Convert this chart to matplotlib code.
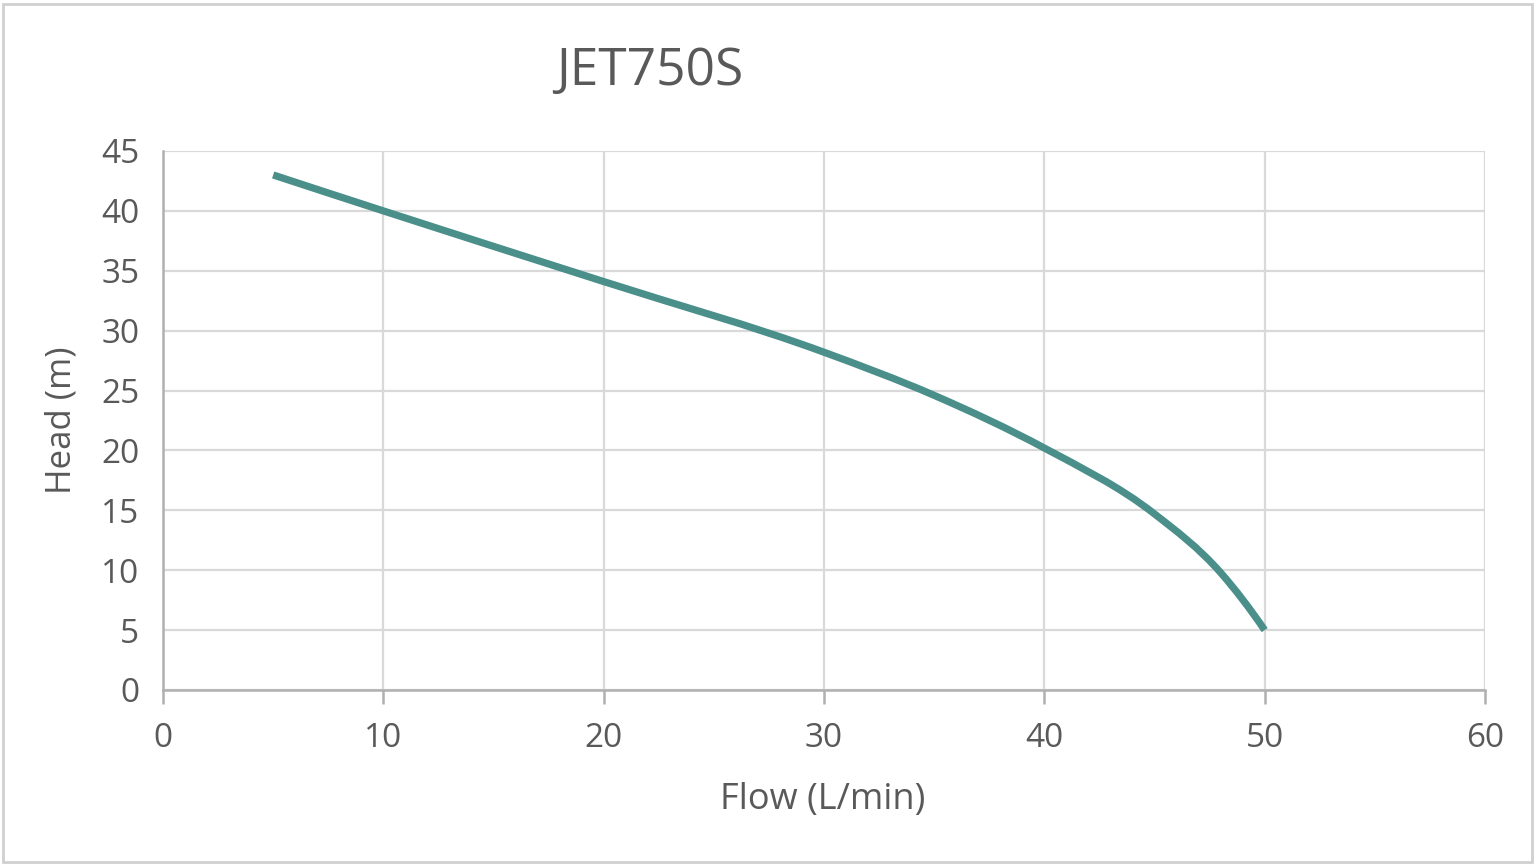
import matplotlib.pyplot as plt
from matplotlib.patches import Rectangle, PathPatch
from matplotlib.path import Path

# curva de la bomba
caudal = [5, 10, 20, 30, 35, 40, 45, 48, 50]
altura = [43, 40, 34.1, 28.2, 24.6, 20.2, 14.7, 9.8, 5]

xticks = [0, 10, 20, 30, 40, 50, 60]
yticks = [0, 5, 10, 15, 20, 25, 30, 35, 40, 45]

titulo = 'JET750S'
xlabel = 'Flow (L/min)'
ylabel = 'Head (m)'

gris_texto = '#595959'
gris_grid = '#D9D9D9'
gris_eje = '#B0B0B0'
color_linea = '#4A8F8A'


def pendientes(x, y):
    n = len(x)
    m = [0.0] * n
    for i in range(1, n - 1):
        h0 = x[i] - x[i - 1]
        h1 = x[i + 1] - x[i]
        s0 = (y[i] - y[i - 1]) / h0
        s1 = (y[i + 1] - y[i]) / h1
        m[i] = (s0 * h1 + s1 * h0) / (h0 + h1)
    # extremos: condicion cuadratica
    m[0] = 2 * (y[1] - y[0]) / (x[1] - x[0]) - m[1]
    m[-1] = 2 * (y[-1] - y[-2]) / (x[-1] - x[-2]) - m[-2]
    return m


def curva_suave(x, y):
    # linea suavizada (bezier) que pasa por los puntos, como en Excel
    m = pendientes(x, y)
    verts = [(x[0], y[0])]
    codes = [Path.MOVETO]
    for i in range(len(x) - 1):
        h = x[i + 1] - x[i]
        verts += [(x[i] + h / 3, y[i] + m[i] * h / 3),
                  (x[i + 1] - h / 3, y[i + 1] - m[i + 1] * h / 3),
                  (x[i + 1], y[i + 1])]
        codes += [Path.CURVE4] * 3
    return Path(verts, codes)


plt.rcParams['font.family'] = ['Open Sans', 'DejaVu Sans']

fig = plt.figure(figsize=(15.36, 8.66), dpi=100)
ax = fig.add_axes([163 / 1536, 1 - 690 / 866, (1485 - 163) / 1536, (690 - 151) / 866])

ax.add_patch(PathPatch(curva_suave(caudal, altura), fill=False, edgecolor=color_linea,
                       lw=5.2, capstyle='butt', joinstyle='round', zorder=3))

ax.set_xlim(0, 60)
ax.set_ylim(0, 45)
ax.set_xticks(xticks)
ax.set_yticks(yticks)
ax.grid(True, color=gris_grid, lw=1.6)
ax.set_axisbelow(True)

for lado in ['top', 'right']:
    ax.spines[lado].set_visible(False)
for lado in ['left', 'bottom']:
    ax.spines[lado].set_color(gris_eje)
    ax.spines[lado].set_linewidth(1.8)

ax.tick_params(axis='x', length=10, width=1.8, color=gris_eje, labelsize=24,
               labelcolor=gris_texto, pad=13)
ax.tick_params(axis='y', length=0, labelsize=24, labelcolor=gris_texto, pad=17)

fig.text(0.423, 0.917, titulo, ha='center', va='center', fontsize=37, color=gris_texto)
fig.text(823 / 1536, 1 - 800 / 866, xlabel, ha='center', va='center', fontsize=26,
         color=gris_texto)
fig.text(62 / 1536, 1 - 420 / 866, ylabel, ha='center', va='center', fontsize=25,
         color=gris_texto, rotation=90)

# marco exterior del grafico
fig.patches.append(Rectangle((3 / 1536, 4 / 866), 1 - 7 / 1536, 1 - 8 / 866,
                             transform=fig.transFigure, fill=False,
                             edgecolor='#D0D0D0', lw=2))

fig.savefig('out.png', dpi=100, facecolor='white')
